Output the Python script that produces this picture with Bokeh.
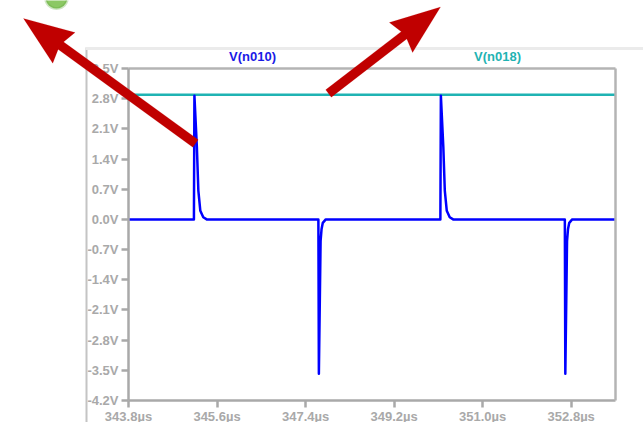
import math
from bokeh.plotting import figure
from bokeh.models import FixedTicker, Label, PolyAnnotation, Range1d, LinearAxis
from bokeh.embed import file_html
from bokeh.resources import INLINE

# ---- data ----
t_n010 = [343.80, 345.13, 345.14, 345.19, 345.22, 345.26, 345.32, 345.39,
          347.66, 347.67, 347.705, 347.725, 347.75, 347.81,
          350.14, 350.15, 350.20, 350.23, 350.27, 350.33, 350.40,
          352.67, 352.68, 352.715, 352.735, 352.76, 352.82, 353.70]
v_n010 = [0.0, 0.0, 2.87, 1.68, 0.67, 0.20, 0.05, 0.0,
          0.0, -3.58, -0.50, -0.22, -0.08, 0.0,
          0.0, 2.87, 1.68, 0.67, 0.20, 0.05, 0.0,
          0.0, -3.58, -0.50, -0.22, -0.08, 0.0, 0.0]
t_n018 = [343.80, 353.70]
v_n018 = [2.89, 2.89]

x_ticks = [343.8, 345.6, 347.4, 349.2, 351.0, 352.8]
x_tick_labels = ["343.8µs", "345.6µs", "347.4µs", "349.2µs", "351.0µs", "352.8µs"]
y_ticks = [3.5, 2.8, 2.1, 1.4, 0.7, 0.0, -0.7, -1.4, -2.1, -2.8, -3.5, -4.2]
y_tick_labels = ["3.5V", "2.8V", "2.1V", "1.4V", "0.7V", "0.0V", "-0.7V", "-1.4V",
                 "-2.1V", "-2.8V", "-3.5V", "-4.2V"]
trace_names = ["V(n010)", "V(n018)"]

# annotation arrows (data coordinates): tail -> tip
arrow_x0 = [345.162, 347.866]
arrow_y0 = [1.761, 2.920]
arrow_x1 = [341.665, 350.143]
arrow_y1 = [4.660, 4.926]

# plot box in data units and its pixel placement on the canvas
X0, X1, Y0, Y1 = 343.8, 353.7, -4.2, 3.5
W, H = 643, 422
BOX_L, BOX_R, BOX_T, BOX_B = 128, 615, 68, 400
SX = (BOX_R - BOX_L) / (X1 - X0)     # px per µs
SY = (BOX_B - BOX_T) / (Y1 - Y0)     # px per V


def px2x(px):
    return X0 + (px - BOX_L) / SX


def px2y(py):
    return Y1 - (py - BOX_T) / SY


BLUE = "#0000ff"
TEAL = "#1fb3b3"
GRAY = "#a9a9a9"
BOXGRAY = "#b4b4b4"
RED = "#c00000"
FONT = "Liberation Sans"

# the frame covers the whole canvas; axes are pinned to the plot box
p = figure(width=W, height=H, output_backend="svg", toolbar_location=None,
           x_range=Range1d(px2x(0), px2x(W)), y_range=Range1d(px2y(H), px2y(0)),
           x_axis_location=None, y_axis_location=None,
           min_border=0, min_border_left=0, min_border_right=0,
           min_border_top=0, min_border_bottom=0)
p.background_fill_color = "white"
p.border_fill_color = "white"
p.outline_line_color = None
p.xgrid.visible = False
p.ygrid.visible = False


def style_axis(ax):
    ax.axis_line_color = GRAY
    ax.axis_line_width = 2.5
    ax.major_tick_line_color = GRAY
    ax.major_tick_line_width = 2.5
    ax.major_tick_in = 0
    ax.major_tick_out = 7
    ax.minor_tick_line_color = None
    ax.major_label_text_color = GRAY
    ax.major_label_text_font = FONT
    ax.major_label_text_font_style = "bold"
    ax.major_label_text_font_size = "13px"


xaxis = LinearAxis(fixed_location=Y0, bounds=(X0, X1), ticker=FixedTicker(ticks=x_ticks),
                   major_label_overrides={t: l for t, l in zip(x_ticks, x_tick_labels)},
                   major_label_standoff=1)
style_axis(xaxis)
yaxis = LinearAxis(fixed_location=X0, bounds=(Y0, Y1), ticker=FixedTicker(ticks=y_ticks),
                   major_label_overrides={t: l for t, l in zip(y_ticks, y_tick_labels)},
                   major_label_standoff=3)
style_axis(yaxis)
top_axis = LinearAxis(fixed_location=Y1, bounds=(X0, X1), ticker=FixedTicker(ticks=[]),
                      major_label_text_font_size="0px", major_tick_line_color=None,
                      minor_tick_line_color=None, axis_line_color=BOXGRAY, axis_line_width=2.5)
right_axis = LinearAxis(fixed_location=X1, bounds=(Y0, Y1), ticker=FixedTicker(ticks=[]),
                        major_label_text_font_size="0px", major_tick_line_color=None,
                        minor_tick_line_color=None, axis_line_color=BOXGRAY, axis_line_width=2.5)
p.add_layout(xaxis, "below")
p.add_layout(yaxis, "left")
p.add_layout(top_axis, "above")
p.add_layout(right_axis, "right")

# window frame lines
p.add_layout(PolyAnnotation(xs=[px2x(85), px2x(87), px2x(87), px2x(85)],
                            ys=[px2y(47), px2y(47), px2y(H + 5), px2y(H + 5)],
                            fill_color="#c4c4c4", fill_alpha=1, line_alpha=0, level="underlay"))
p.add_layout(PolyAnnotation(xs=[px2x(85), px2x(W + 5), px2x(W + 5), px2x(85)],
                            ys=[px2y(46.5), px2y(46.5), px2y(49.5), px2y(49.5)],
                            fill_color="#ebebeb", fill_alpha=1, line_alpha=0, level="underlay"))

# green badge partly visible at the top-left
cx, cy, r = 56, -3, 11
ring = [(cx + r * math.cos(a / 24 * 2 * math.pi), cy + r * math.sin(a / 24 * 2 * math.pi))
        for a in range(24)]
p.add_layout(PolyAnnotation(xs=[px2x(q[0]) for q in ring], ys=[px2y(q[1]) for q in ring],
                            fill_color="#8cc864", fill_alpha=1, line_color="#5fa83a",
                            line_width=3, level="underlay"))

p.line(t_n018, v_n018, line_color=TEAL, line_width=2.5)
p.line(t_n010, v_n010, line_color=BLUE, line_width=2.5, line_join="round")

# trace names above the plot box
p.add_layout(Label(x=px2x(252), y=Y1, y_offset=5, text=trace_names[0],
                   text_align="center", text_baseline="bottom", text_color="#1a1ae6",
                   text_font=FONT, text_font_style="bold", text_font_size="13px"))
p.add_layout(Label(x=px2x(497), y=Y1, y_offset=5, text=trace_names[1],
                   text_align="center", text_baseline="bottom", text_color=TEAL,
                   text_font=FONT, text_font_style="bold", text_font_size="13px"))


def arrow_polys(xs, ys, xe, ye, head_len=50, head_half=19, shaft_half=4.6, notch=5):
    # geometry in pixel space, returned as data-space polygons
    ax, ay = (xs - X0) * SX, (ys - Y0) * SY
    bx, by = (xe - X0) * SX, (ye - Y0) * SY
    d = math.hypot(bx - ax, by - ay)
    ux, uy = (bx - ax) / d, (by - ay) / d
    nx, ny = -uy, ux
    sx_, sy_ = bx - ux * (head_len - notch - 2), by - uy * (head_len - notch - 2)
    shaft = [(ax + nx * shaft_half, ay + ny * shaft_half),
             (sx_ + nx * shaft_half, sy_ + ny * shaft_half),
             (sx_ - nx * shaft_half, sy_ - ny * shaft_half),
             (ax - nx * shaft_half, ay - ny * shaft_half)]
    bx0, by0 = bx - ux * head_len, by - uy * head_len
    head = [(bx, by),
            (bx0 + nx * head_half, by0 + ny * head_half),
            (bx - ux * (head_len - notch), by - uy * (head_len - notch)),
            (bx0 - nx * head_half, by0 - ny * head_half)]
    conv = lambda pts: ([X0 + q[0] / SX for q in pts], [Y0 + q[1] / SY for q in pts])
    return conv(shaft), conv(head)


for xs, ys, xe, ye in zip(arrow_x0, arrow_y0, arrow_x1, arrow_y1):
    for px, py in arrow_polys(xs, ys, xe, ye):
        p.add_layout(PolyAnnotation(xs=px, ys=py, fill_color=RED, fill_alpha=1,
                                    line_color=RED, line_width=0.5))

open("out.html", "w").write(file_html(p, INLINE))
